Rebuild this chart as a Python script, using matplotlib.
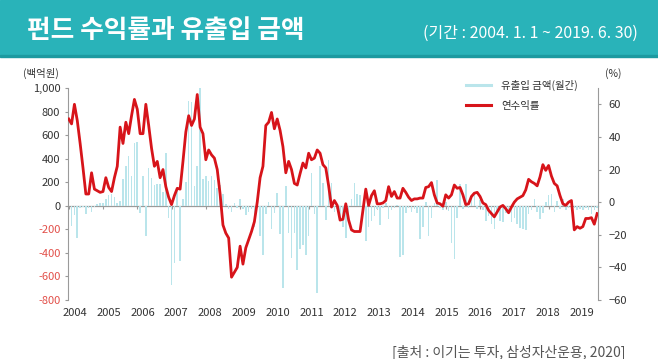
import numpy as np
import matplotlib
matplotlib.use("Agg")
import matplotlib.pyplot as plt
from matplotlib.patches import Rectangle
from matplotlib.lines import Line2D

plt.rcParams['font.family'] = ['Noto Sans CJK KR', 'DejaVu Sans']

# ---------------- data ----------------
years = [str(y) for y in range(2004, 2020)]

# monthly annual return (%) Jan 2004 .. Jun 2019
returns = (
    [51, 48, 60, 50, 36, 21, 5, 5, 18, 8, 7, 6] +                      # 2004
    [6.5, 15, 9, 6.5, 15, 22, 46, 36, 49, 42, 53, 63] +                # 2005
    [57, 42, 42, 60, 47, 33, 22, 25, 15, 20, 9.5, 3] +                 # 2006
    [-1.5, 4, 8.5, 8, 25, 43, 53, 47, 51, 66, 46, 42] +                # 2007
    [26, 32, 29, 27, 20, 5, -14, -19, -22, -46, -43, -40] +            # 2008
    [-27, -38, -28, -23, -18, -12, 0, 15, 22, 47, 49, 55] +            # 2009
    [45, 51, 44, 34, 18, 25, 20, 11.5, 10.5, 17.5, 24, 21] +           # 2010
    [30, 26, 27, 32, 30, 23, 21, 10, -3, 1, -2, -11] +                 # 2011
    [-10.5, -1, -11, -17, -18, -18, -18, -5, 8, -2, 4, 7] +            # 2012
    [-1, -1, -0.5, 1, 9.5, 3.5, 6.5, 2.5, 2.5, 8.5, 6, 3] +            # 2013
    [1, 2, 2, 2.5, 2.5, 9, 9.5, 12, 4.5, -0.5, -1, -2.5] +             # 2014
    [4.5, 2.5, 4.5, 10.5, 8.5, 9, 4.5, -1.5, -1, 3.5, 5.5, 6] +        # 2015
    [3.5, -0.5, -1.5, -5, -7, -9, -6, -3, -2, -4, -6.5, -3] +          # 2016
    [0, 2, 3, 4, 7.5, 14, 12.5, 11.5, 10, 15.5, 23, 19.5] +            # 2017
    [22.5, 16, 11.5, 10, 4, -1, -2, 0, 1, -17, -15, -16] +             # 2018
    [-15, -10, -10, -9.5, -13.5, -7]                                   # 2019
)

# monthly net fund flow (백억원)
flows = (
    [-110, -170, -80, -270, -15, -10, -70, -20, -50, -10, 15, 20] +
    [25, 60, 90, 100, 75, 20, 40, 230, 340, 420, 250, 530] +
    [545, -60, 250, -260, 320, 235, 180, 185, 185, 120, 450, -100] +
    [-670, -490, 130, -470, 55, 200, 890, 880, 170, 340, 1060, 230] +
    [250, 210, 250, 220, 150, 180, 100, 15, -30, -50, 25, -20] +
    [55, -30, -80, -50, -30, -180, -20, -255, -420, -70, 30, -200] +
    [-60, 105, -240, -700, 170, -230, -440, -230, -545, -370, -330, -420] +
    [-255, 276, -70, -740, 340, 190, -120, 385, 190, -55, -30, -127] +
    [-180, -270, -95, 57, 190, 100, 92, -40, -300, -180, -127, -90] +
    [-30, -165, -20, 20, -113, -40, -20, 10, -435, -420, -60, -20] +
    [-50, -30, -60, -285, -184, 30, -255, -100, 20, 219, -20, -40] +
    [30, -42, -320, -450, -100, 184, -30, 184, -20, 60, 100, -30] +
    [50, -40, -127, -90, -155, -200, -60, -127, -140, -60, -70, -140] +
    [-100, -155, -190, -198, -206, -70, -40, 57, -50, -113, -60, 28] +
    [92, 100, -50, 42, -30, 57, -40, -20, -25, -20, -40, -30] +
    [-40, -20, -40, -70, -40, -20]
)

left_ticks = list(range(-800, 1001, 200))
right_ticks = list(range(-60, 61, 20))

# ---------------- figure ----------------
W, H = 658, 359
fig = plt.figure(figsize=(W / 100, H / 100), dpi=100)

# banner
fig.patches.append(Rectangle((0, 1 - 55 / H), 1, 55 / H, transform=fig.transFigure,
                             color='#29b3b9', zorder=0))
fig.patches.append(Rectangle((0, 1 - 57 / H), 1, 2 / H, transform=fig.transFigure,
                             color='#1c9aa0', zorder=0))
fig.text(27 / W, 1 - 30 / H, '펀드 수익률과 유출입 금액', color='white', fontsize=18.5,
         fontweight='bold', ha='left', va='center')
fig.text(638 / W, 1 - 33 / H, '(기간 : 2004. 1. 1 ~ 2019. 6. 30)', color='white',
         fontsize=11.5, ha='right', va='center')

ax = fig.add_axes([68 / W, 1 - 300 / H, 530 / W, 212 / H])
ax2 = ax.twinx()

x = np.arange(len(returns))
bar_color = '#bae5eb'
line_color = '#d7141a'

ax.bar(x, flows, width=0.55, color=bar_color, zorder=1)
ax2.plot(x, returns, color=line_color, lw=2.0, zorder=3, solid_joinstyle='round')

ax.set_xlim(-0.25, 185.3)
ax.set_ylim(-800, 1000)
ax2.set_ylim(-60, 70)

gray = '#9a9a9a'
for a in (ax, ax2):
    a.spines['top'].set_visible(False)
    a.spines['bottom'].set_visible(False)
    a.spines['left'].set_color(gray)
    a.spines['right'].set_color(gray)
ax.spines['right'].set_visible(False)
ax2.spines['left'].set_visible(False)

# left axis ticks
left_labels = ['{:,}'.format(v) if v >= 0 else '-{:,}'.format(-v) for v in left_ticks]
ax.set_yticks(left_ticks, labels=left_labels)
ax.tick_params(axis='y', length=2.5, width=0.8, color=gray, pad=3, labelsize=8,
               labelcolor='#333333')
for t, v in zip(ax.get_yticklabels(), left_ticks):
    if v < 0:
        t.set_color('#e2504a')

# right axis ticks
ax2.set_yticks(right_ticks, labels=[('\u2212' + str(-v)) if v < 0 else str(v) for v in right_ticks])
ax2.tick_params(axis='y', length=2.5, width=0.8, color=gray, pad=5, labelsize=8,
                labelcolor='#333333')

# x labels (bottom) - year labels
n_years = len(years)
label_pos = [12 * k + 2.2 - 2.6 * k / (n_years - 1) for k in range(n_years)]
ax.set_xticks(label_pos, labels=years)
ax.tick_params(axis='x', length=0, pad=6, labelsize=8, labelcolor='#333333')

# zero line with year ticks
sec = ax.secondary_xaxis(800 / 1800)
sec.set_xticks([12 * k for k in range(n_years)])
sec.tick_params(axis='x', length=2.5, width=0.8, color=gray, labelbottom=False)
sec.spines['bottom'].set_color(gray)
sec.spines['bottom'].set_linewidth(0.9)

# unit labels
fig.text(41 / W, 1 - 73 / H, '(백억원)', ha='center', va='center', fontsize=7.5, color='#333333')
fig.text(613 / W, 1 - 74 / H, '(%)', ha='center', va='center', fontsize=7.5, color='#333333')

# legend
handles = [Line2D([0], [0], color=bar_color, lw=2.2),
           Line2D([0], [0], color=line_color, lw=2.2)]
leg = fig.legend(handles=handles, labels=['유출입 금액(월간)', '연수익률'],
                 loc='upper left', bbox_to_anchor=(466 / W, 1 - 80 / H),
                 frameon=False, fontsize=7.5, handlelength=2.4, handletextpad=1.0,
                 labelspacing=0.95, borderpad=0, borderaxespad=0)
for t in leg.get_texts():
    t.set_color('#333333')

# source
fig.text(625 / W, 1 - 352 / H, '[출처 : 이기는 투자, 삼성자산운용, 2020]', ha='right',
         va='center', fontsize=10, color='#555555')

fig.savefig('out.png', dpi=100)
